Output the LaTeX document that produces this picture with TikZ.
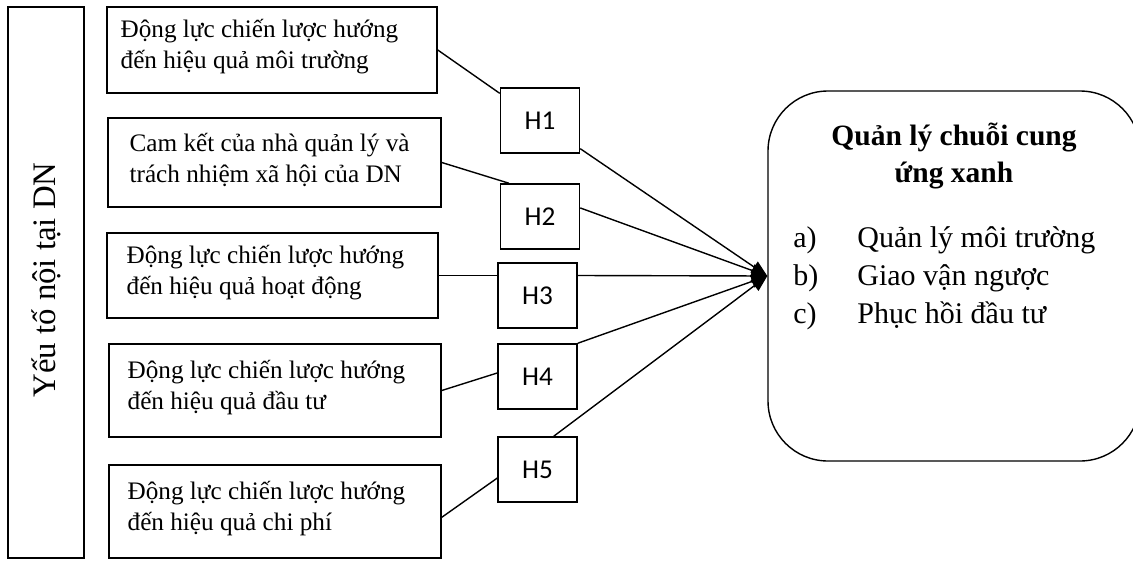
\documentclass[tikz,border=0pt]{standalone}
\usepackage{fontspec}
\setmainfont{Liberation Serif}
\newfontfamily\hfont{Carlito}
\usetikzlibrary{arrows.meta}
\begin{document}
\begin{tikzpicture}[x=0.5pt,y=-0.5pt,
  boxline/.style={draw, line width=0.75pt, inner sep=0pt},
  ltext/.style={anchor=west, align=left, inner sep=0pt, font=\fontsize{12.6}{15.5}\selectfont},
  hbox/.style={draw, line width=0.75pt, minimum width=39.5pt, minimum height=32.5pt, inner sep=0pt, font=\hfont\fontsize{13.6}{15}\selectfont},
  conn/.style={line width=0.7pt},
  arr/.style={line width=0.7pt, -{Triangle[length=8pt,width=6.5pt]}}]
\useasboundingbox (0,0) rectangle (1133,562);
% left vertical box
\node[boxline, minimum width=38pt, minimum height=275.5pt] (left) at (46,282.5) {};
\node[rotate=90, inner sep=0pt, font=\fontsize{16.4}{18}\selectfont] (lt) at (46,280) {Yếu tố nội tại DN};
% factor boxes
\node[boxline, minimum width=165pt, minimum height=43pt] (b1) at (272,50) {};
\node[boxline, minimum width=166.5pt, minimum height=44.5pt] (b2) at (274.5,162.5) {};
\node[boxline, minimum width=165.5pt, minimum height=42.5pt] (b3) at (272.5,275.5) {};
\node[boxline, minimum width=166pt, minimum height=46.5pt] (b4) at (275,390.5) {};
\node[boxline, minimum width=166pt, minimum height=46.5pt] (b5) at (275,511.5) {};
\node[ltext] (t1) at ([xshift=7pt,yshift=1.5pt]b1.west) {Động lực chiến lược hướng\\đến hiệu quả môi trường};
\node[ltext] (t2) at ([xshift=11pt,yshift=1.5pt]b2.west) {Cam kết của nhà quản lý và\\trách nhiệm xã hội của DN};
\node[ltext] (t3) at ([xshift=10pt,yshift=1.5pt]b3.west) {Động lực chiến lược hướng\\đến hiệu quả hoạt động};
\node[ltext] (t4) at ([xshift=9.5pt,yshift=1.5pt]b4.west) {Động lực chiến lược hướng\\đến hiệu quả đầu tư};
\node[ltext] (t5) at ([xshift=9.5pt,yshift=1.5pt]b5.west) {Động lực chiến lược hướng\\đến hiệu quả chi phí};
% hypothesis boxes
\node[hbox] (h1) at (540,120.5) {H1};
\node[hbox] (h2) at (540,216.5) {H2};
\node[hbox] (h3) at (537.5,295.5) {H3};
\node[hbox] (h4) at (537.5,376.5) {H4};
\node[hbox] (h5) at (537.5,469.5) {H5};
% result box
\node[draw, line width=0.7pt, rounded corners=30pt, minimum width=186pt, minimum height=185pt, inner sep=0pt] (q) at (954,276) {};
\node[align=center, inner sep=0pt, font=\bfseries\fontsize{14.75}{18.5}\selectfont] (title) at (954,156) {Quản lý chuỗi cung\\ứng xanh};
\node[anchor=west, inner sep=0pt, font=\fontsize{15}{19}\selectfont] (list) at (793,278) {\begin{tabular}{@{}p{32pt}@{}l@{}}a) & Quản lý môi trường\\ b) & Giao vận ngược\\ c) & Phục hồi đầu tư\end{tabular}};
% connectors
\draw[conn] (b1.east) -- (h1.146);
\draw[arr] (h1.325) -- (q.west);
\draw[conn] (b2.east) -- (h2.133);
\draw[arr] (h2.12) -- (q.west);
\draw[conn] (b3.east) -- (b3.east -| h3.west);
\draw[arr] (h3.east |- b3.east) -- (q.west);
\draw[conn] (b4.east) -- (h4.175);
\draw[arr] (h4.north east) -- (q.west);
\draw[conn] (b5.-2) -- (h5.192);
\draw[arr] (h5.64) -- (q.west);
\end{tikzpicture}
\end{document}
